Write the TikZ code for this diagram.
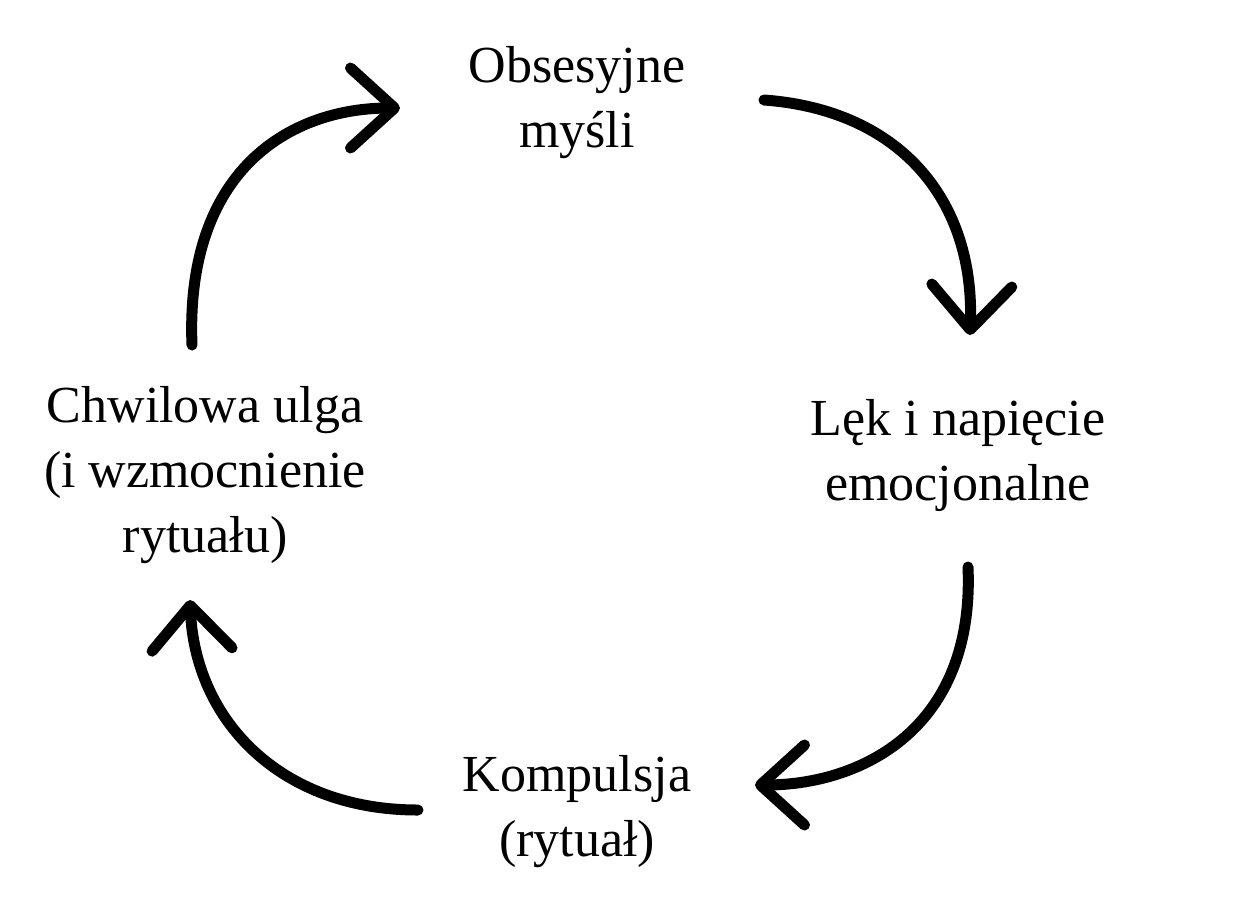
\documentclass[tikz,border=0pt]{standalone}
\usepackage{fontspec}
\setmainfont{Liberation Serif}
\usetikzlibrary{arrows.meta}
\begin{document}
\begin{tikzpicture}[x=1pt,y=-1pt,
  lbl/.style={align=center,font=\fontsize{52}{65}\selectfont},
  arr/.style={line width=11pt,line cap=round,-{Straight Barb[length=44pt,width=80pt,line cap=round,line join=round]}}]
\useasboundingbox (0,0) rectangle (1250,919);
\fill[white] (0,0) rectangle (1250,919);
\node[lbl] (a) at (577,103) {Obsesyjne\\myśli};
\node[lbl] (b) at (958,455) {Lęk i napięcie\\emocjonalne};
\node[lbl] (c) at (577,812) {Kompulsja\\(rytuał)};
\node[lbl] (d) at (205,475) {Chwilowa ulga\\(i wzmocnienie\\rytuału)};
\coordinate (d1) at (192,345); \coordinate (a1) at (400,108);
\coordinate (a2) at (764,100); \coordinate (b1) at (970,335);
\coordinate (b2) at (968,567); \coordinate (c1) at (755,785);
\coordinate (c2) at (418,810); \coordinate (d2) at (190,600);
\draw[arr] (d1) .. controls (185,170) and (290,108) .. (a1);
\draw[arr] (a2) .. controls (900,110) and (975,200) .. (b1);
\draw[arr] (b2) .. controls (975,730) and (860,785) .. (c1);
\draw[arr] (c2) .. controls (280,810) and (195,720) .. (d2);
\end{tikzpicture}
\end{document}
